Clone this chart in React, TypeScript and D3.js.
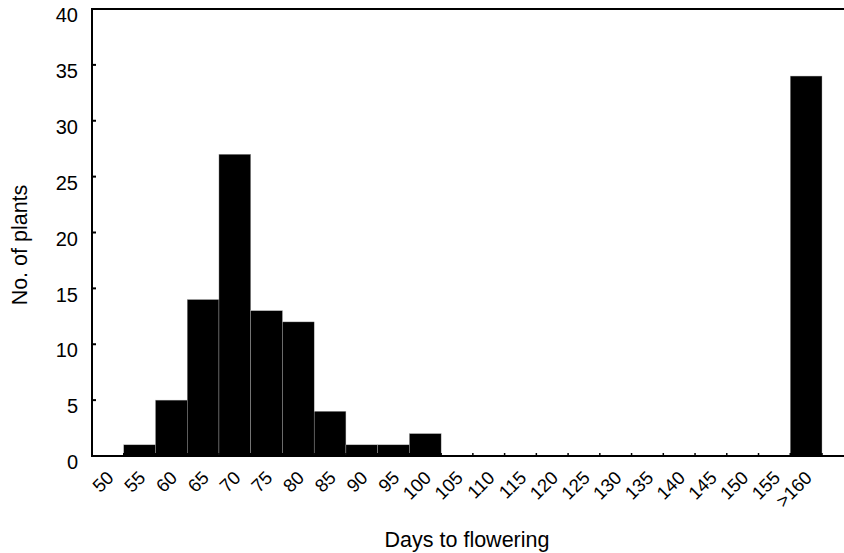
import React from "react";
import * as d3 from "d3";

const categories = [
  "50", "55", "60", "65", "70", "75", "80", "85", "90", "95", "100", "105",
  "110", "115", "120", "125", "130", "135", "140", "145", "150", "155", ">160",
];
const counts = [0, 1, 5, 14, 27, 13, 12, 4, 1, 1, 2, 0, 0, 0, 0, 0, 0, 0, 0, 0, 0, 0, 34];
const yTicks = [0, 5, 10, 15, 20, 25, 30, 35, 40];

const width = 844;
const height = 553;
const margin = { top: 9, right: 22, bottom: 97, left: 92 };
const font = "'Liberation Sans', Arial, Helvetica, sans-serif";

export default function App() {
  const plotBottom = height - margin.bottom;

  const xScale = d3
    .scaleBand()
    .domain(categories)
    .range([margin.left, width - margin.right])
    .padding(0);

  const yScale = d3.scaleLinear().domain([0, 40]).range([plotBottom, margin.top]);

  const bw = xScale.bandwidth();
  const boundaries = d3.range(categories.length + 1).map((i) => margin.left + i * bw);

  return (
    <svg
      width={width}
      height={height}
      style={{ position: "absolute", left: 0, top: 0, background: "#fff" }}
      fontFamily={font}
    >
      {/* bars */}
      {categories.map((c, i) =>
        counts[i] > 0 ? (
          <rect
            key={c}
            x={xScale(c)}
            y={yScale(counts[i])}
            width={bw}
            height={plotBottom - yScale(counts[i])}
            fill="#000"
            stroke="#aaa"
            strokeWidth={0.4}
          />
        ) : null
      )}

      {/* y ticks and labels (labels sit a little below their ticks) */}
      {yTicks.map((t) => (
        <g key={t}>
          <line x1={margin.left} x2={margin.left + 4} y1={yScale(t)} y2={yScale(t)} stroke="#000" strokeWidth={2} />
          <text x={margin.left - 14} y={yScale(t) + 6} dy="0.36em" textAnchor="end" fontSize={20}>
            {t}
          </text>
        </g>
      ))}

      {/* x ticks */}
      {boundaries.map((b, i) => (
        <line key={i} x1={b} x2={b} y1={plotBottom} y2={plotBottom - 3} stroke="#000" strokeWidth={1.5} />
      ))}

      {/* x labels */}
      {categories.map((c) => {
        const cx = (xScale(c) as number) + bw / 2 + 7;
        const cy = plotBottom + 23;
        return (
          <text key={c} x={cx} y={cy} textAnchor="end" fontSize={18.5} transform={`rotate(-45, ${cx}, ${cy})`}>
            {c}
          </text>
        );
      })}

      {/* frame */}
      <line x1={margin.left} x2={width} y1={margin.top} y2={margin.top} stroke="#000" strokeWidth={2} />
      <line x1={margin.left} x2={width} y1={plotBottom} y2={plotBottom} stroke="#000" strokeWidth={2} />
      <line x1={margin.left} x2={margin.left} y1={margin.top - 1} y2={plotBottom + 1} stroke="#000" strokeWidth={2} />

      {/* axis titles */}
      <text x={467} y={547} textAnchor="middle" fontSize={21.5}>
        Days to flowering
      </text>
      <text transform="translate(27, 245) rotate(-90)" textAnchor="middle" fontSize={21.5}>
        No. of plants
      </text>
    </svg>
  );
}
